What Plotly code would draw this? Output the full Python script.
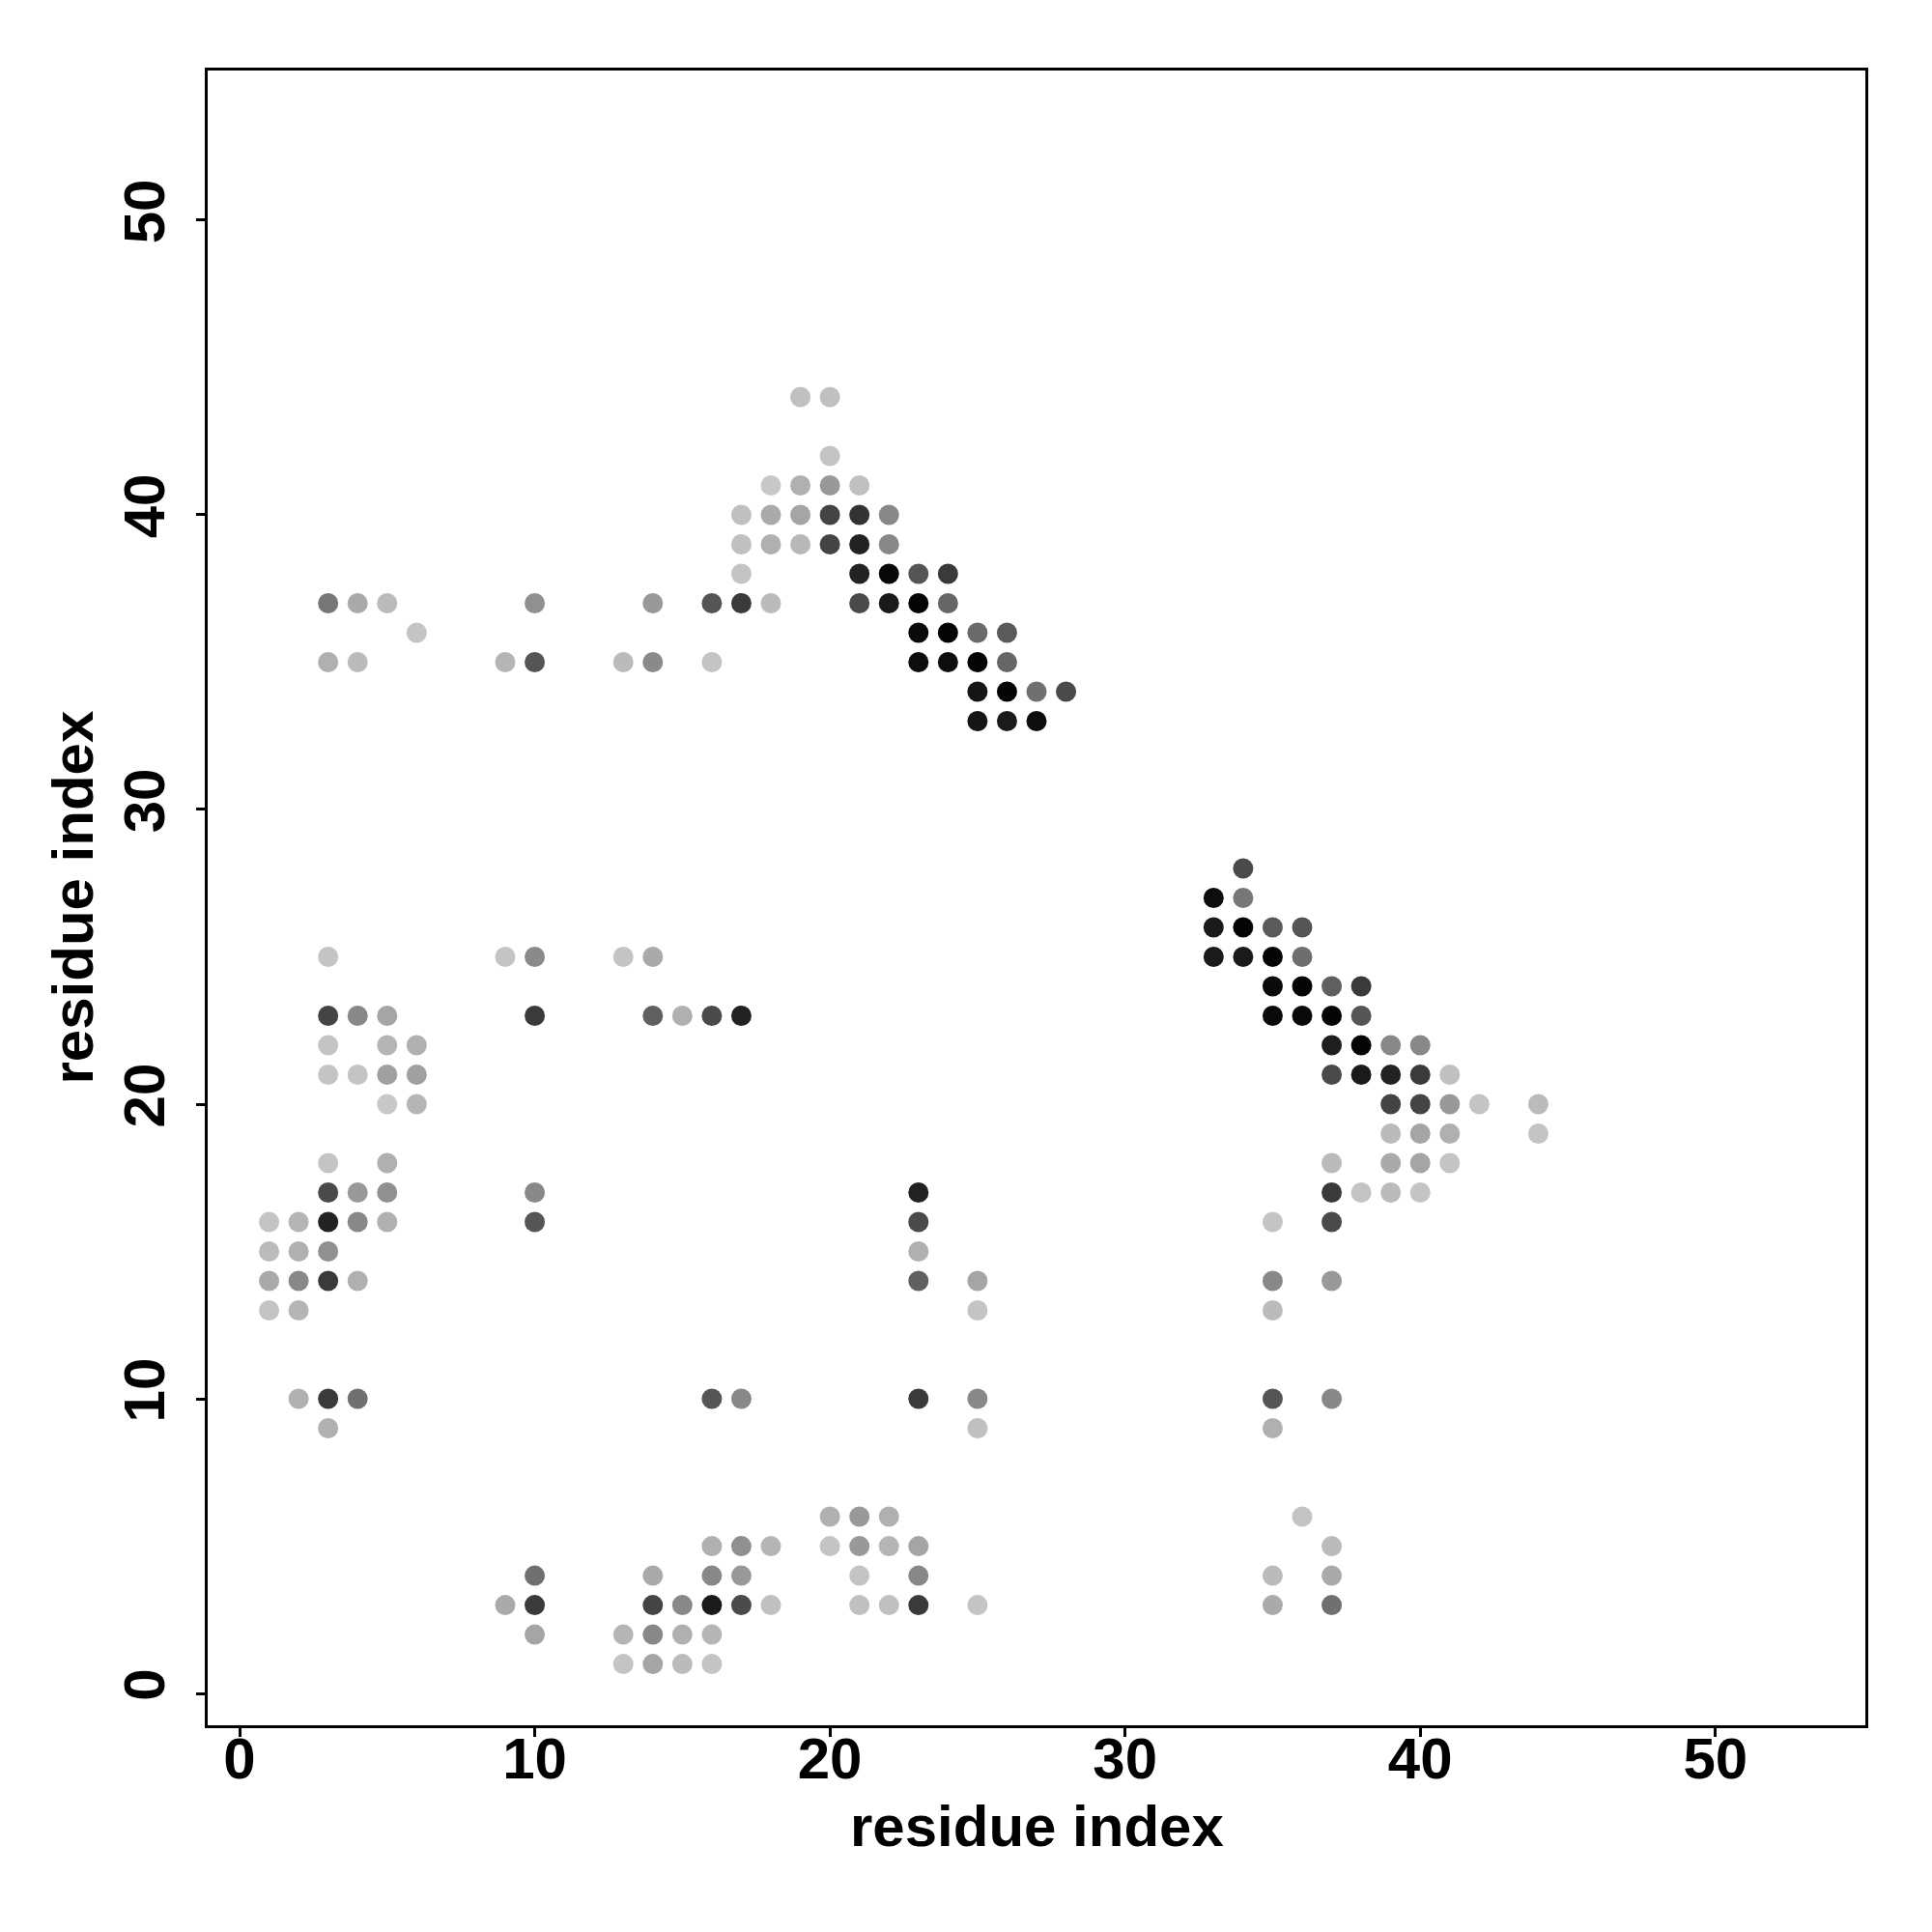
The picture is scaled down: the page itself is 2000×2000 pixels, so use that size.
import plotly.graph_objects as go

# contact positions (x residue, y residue) and grey level (0=black, 255=white)
res_i = [
    19, 20,
    20,
    18, 19, 20, 21,
    17, 18, 19, 20, 21, 22,
    17, 18, 19, 20, 21, 22,
    17, 21, 22, 23, 24,
    3, 4, 5, 10, 14, 16, 17, 18, 21, 22, 23, 24,
    6, 23, 24, 25, 26,
    3, 4, 9, 10, 13, 14, 16, 23, 24, 25, 26,
    25, 26, 27, 28,
    25, 26, 27,
    34,
    33, 34,
    33, 34, 35, 36,
    3, 9, 10, 13, 14, 33, 34, 35, 36,
    35, 36, 37, 38,
    3, 4, 5, 10, 14, 15, 16, 17, 35, 36, 37, 38,
    3, 5, 6, 37, 38, 39, 40,
    3, 4, 5, 6, 37, 38, 39, 40, 41,
    5, 6, 39, 40, 41, 42, 44,
    39, 40, 41, 44,
    3, 5, 37, 39, 40, 41,
    3, 4, 5, 10, 23, 37, 38, 39, 40,
    1, 2, 3, 4, 5, 10, 23, 35, 37,
    1, 2, 3, 23,
    1, 2, 3, 4, 23, 25, 35, 37,
    1, 2, 25, 35,
    2, 3, 4, 16, 17, 23, 25, 35, 37,
    3, 25, 35,
    20, 21, 22, 36,
    16, 17, 18, 20, 21, 22, 23, 37,
    10, 14, 16, 17, 21, 23, 35, 37,
    9, 10, 14, 15, 16, 17, 18, 21, 22, 23, 25, 35, 37,
    10, 13, 14, 15, 16,
    13, 14, 15, 16,
]

res_j = (
    [44] * 2 + [42] * 1 + [41] * 4 + [40] * 6 + [39] * 6 + [38] * 5 + [37] * 12
    + [36] * 5 + [35] * 11 + [34] * 4 + [33] * 3 + [28] * 1 + [27] * 2 + [26] * 4
    + [25] * 9 + [24] * 4 + [23] * 12 + [22] * 7 + [21] * 9 + [20] * 7 + [19] * 4
    + [18] * 6 + [17] * 9 + [16] * 9 + [15] * 4 + [14] * 8 + [13] * 4 + [10] * 9
    + [9] * 3 + [6] * 4 + [5] * 8 + [4] * 8 + [3] * 13 + [2] * 5 + [1] * 4
)

shade = [
    0xc0, 0xc0,
    0xc4,
    0xc8, 0xb0, 0x99, 0xc0,
    0xc0, 0xaa, 0xa5, 0x44, 0x33, 0x88,
    0xc0, 0xb0, 0xb8, 0x44, 0x22, 0x88,
    0xc4, 0x22, 0x08, 0x55, 0x3a,
    0x77, 0xaa, 0xbb, 0x90, 0x99, 0x55, 0x3a, 0xbb, 0x4a, 0x1a, 0x05, 0x66,
    0xc4, 0x0a, 0x05, 0x6a, 0x5a,
    0xb0, 0xbb, 0xb5, 0x55, 0xbb, 0x8a, 0xc4, 0x0d, 0x0d, 0x05, 0x66,
    0x15, 0x05, 0x70, 0x4a,
    0x15, 0x1a, 0x0d,
    0x4a,
    0x0d, 0x77,
    0x1a, 0x05, 0x5a, 0x55,
    0xc4, 0xc4, 0x8a, 0xc4, 0xaa, 0x1a, 0x1a, 0x05, 0x6e,
    0x0a, 0x05, 0x60, 0x3a,
    0x44, 0x88, 0xa5, 0x3a, 0x60, 0xb0, 0x4a, 0x22, 0x0a, 0x0a, 0x05, 0x55,
    0xc4, 0xb5, 0xb0, 0x1e, 0x05, 0x88, 0x88,
    0xc4, 0xc4, 0xa0, 0xa0, 0x4a, 0x1a, 0x22, 0x3a, 0xc0,
    0xc8, 0xb5, 0x44, 0x44, 0x99, 0xc4, 0xbb,
    0xbb, 0xa5, 0xb0, 0xc4,
    0xc4, 0xb0, 0xbb, 0xaa, 0xa5, 0xc4,
    0x4a, 0x99, 0x90, 0x88, 0x22, 0x3a, 0xc4, 0xbb, 0xc4,
    0xc4, 0xb5, 0x22, 0x88, 0xb0, 0x55, 0x4a, 0xc4, 0x4a,
    0xbb, 0xb0, 0x90, 0xb0,
    0xaa, 0x88, 0x3a, 0xb0, 0x60, 0xa5, 0x88, 0x99,
    0xc4, 0xb5, 0xc4, 0xbb,
    0xb0, 0x3a, 0x70, 0x55, 0x88, 0x3a, 0x88, 0x55, 0x88,
    0xb0, 0xc0, 0xb0,
    0xb0, 0x99, 0xb0, 0xc4,
    0xb0, 0x90, 0xb5, 0xc4, 0x99, 0xb5, 0xa5, 0xbb,
    0x70, 0xaa, 0x88, 0x99, 0xc4, 0x88, 0xbb, 0xaa,
    0xaa, 0x3a, 0x44, 0x88, 0x1a, 0x4a, 0xc0, 0xc0, 0xc0, 0x3a, 0xc4, 0xaa, 0x70,
    0xa5, 0xb5, 0x88, 0xb0, 0xb5,
    0xc4, 0xa5, 0xbb, 0xc4,
]

tick_vals = [0, 10, 20, 30, 40, 50]
axis_label = "residue index"

colors = [f"rgb({g},{g},{g})" for g in shade]

fig = go.Figure(
    go.Scatter(
        x=res_i, y=res_j, mode="markers",
        marker=dict(size=21, color=colors, line=dict(width=0)),
        hoverinfo="x+y",
    )
)

FONT = "Liberation Sans, Arial, Helvetica, sans-serif"
axis_common = dict(
    range=[-1.08, 55.08], tickvals=tick_vals, ticks="outside", ticklen=9,
    tickwidth=2.5, tickcolor="black", showline=True, linewidth=3,
    linecolor="black", mirror=True, showgrid=False, zeroline=False,
    tickfont=dict(family=FONT, size=60, color="black", weight="bold"),
)

fig.update_xaxes(**axis_common, ticklabelstandoff=-29)
fig.update_yaxes(**axis_common, tickangle=-90, ticklabelstandoff=9)

title_font = dict(family=FONT, size=60, color="black", weight="bold")
fig.add_annotation(
    text=axis_label, xref="paper", yref="paper", x=0.5, y=0,
    xanchor="center", yanchor="middle", yshift=-104, showarrow=False,
    font=title_font,
)
fig.add_annotation(
    text=axis_label, xref="paper", yref="paper", x=0, y=0.5,
    xanchor="center", yanchor="middle", xshift=-140, textangle=-90,
    showarrow=False, font=title_font,
)

fig.update_layout(
    width=2000, height=2000,
    margin=dict(l=207, r=77, t=65, b=222),
    plot_bgcolor="white", paper_bgcolor="white",
    showlegend=False,
)

fig.write_html("out.html")
